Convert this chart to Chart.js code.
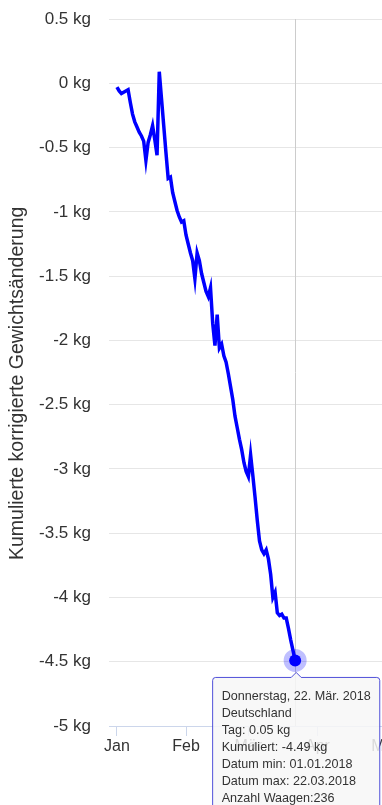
<!DOCTYPE html>
<html>
<head>
<meta charset="utf-8">
<script src="https://cdn.jsdelivr.net/npm/chart.js@4.4.1/dist/chart.umd.min.js"></script>
<style>
  html, body { margin: 0; padding: 0; background: #fff; overflow: hidden; width: 382px; height: 805px; }
  #canvas-container { position: relative; width: 420px; height: 830px; }
</style>
</head>
<body>
<div id="canvas-container"><canvas id="mycanvas"></canvas></div>
<script>
// days since 01.01.2018 and cumulative corrected weight change (kg)
const days = [
  0, 1, 2, 3, 4, 5, 6, 7, 8, 9, 10, 11, 12, 13, 14, 15, 16, 17, 18, 19,
  20, 21, 22, 23, 24, 25, 26, 27, 28, 29, 30, 31, 32, 33, 34, 35, 36, 37, 38, 39,
  40, 41, 42, 43, 44, 45, 46, 47, 48, 49, 50, 51, 52, 53, 54, 55, 56, 57, 58, 59,
  60, 61, 62, 63, 64, 65, 66, 67, 68, 69, 70, 71, 72, 73, 74, 75, 76, 77, 78, 79, 80
];
const cumulative = [
  -0.03, -0.06, -0.08, -0.07, -0.06, -0.05, -0.15, -0.24, -0.30, -0.34,
  -0.38, -0.41, -0.45, -0.60, -0.46, -0.40, -0.33, -0.44, -0.56, 0.09,
  -0.12, -0.33, -0.54, -0.74, -0.73, -0.85, -0.92, -0.99, -1.04, -1.08,
  -1.07, -1.18, -1.25, -1.32, -1.38, -1.52, -1.32, -1.38, -1.48, -1.55,
  -1.62, -1.66, -1.59, -1.87, -2.04, -1.80, -2.06, -2.03, -2.12, -2.17,
  -2.26, -2.36, -2.46, -2.59, -2.68, -2.77, -2.85, -2.95, -3.02, -3.06,
  -2.89, -3.05, -3.22, -3.40, -3.56, -3.63, -3.66, -3.63, -3.70, -3.82,
  -4.00, -3.96, -4.12, -4.14, -4.13, -4.16, -4.16, -4.24, -4.33, -4.41, -4.49
];
const monthStarts = [0, 31, 59, 90, 120];
const monthNames = ["Jan", "Feb", "Mär", "Apr", "Mai"];
const weekdayNames = ["Sonntag", "Montag", "Dienstag", "Mittwoch", "Donnerstag", "Freitag", "Samstag"];
const yTicks = [0.5, 0, -0.5, -1, -1.5, -2, -2.5, -3, -3.5, -4, -4.5, -5];
const region = "Deutschland";
const dayChange = 0.05;
const scaleCount = 236;

Chart.defaults.font.family = "'Liberation Sans', Arial, sans-serif";
Chart.defaults.color = "#333333";

function pad2(n) { return (n < 10 ? "0" : "") + n; }
function dateOf(day) { return new Date(2018, 0, 1 + day); }
function shortDate(day) {
  const d = dateOf(day);
  return pad2(d.getDate()) + "." + pad2(d.getMonth() + 1) + "." + d.getFullYear();
}

// vertical crosshair at the active point
const crosshair = {
  id: "crosshair",
  beforeDatasetsDraw(chart) {
    const active = chart.getActiveElements();
    if (!active.length) return;
    const x = active[0].element.x;
    const ctx = chart.ctx;
    ctx.save();
    ctx.strokeStyle = "#cccccc";
    ctx.lineWidth = 1;
    ctx.beginPath();
    ctx.moveTo(Math.round(x) + 0.5, chart.chartArea.top);
    ctx.lineTo(Math.round(x) + 0.5, chart.chartArea.bottom);
    ctx.stroke();
    ctx.restore();
  }
};

const ctx = document.getElementById("mycanvas");
const myChart = new Chart(ctx, {
  type: "line",
  data: {
    datasets: [{
      data: days.map((d, i) => ({ x: d, y: cumulative[i] })),
      borderColor: "#0000ff",
      borderWidth: 3.5,
      tension: 0,
      pointRadius: 0,
      pointHoverRadius: 6,
      pointHoverBackgroundColor: "#0000ff",
      pointHoverBorderColor: "rgba(0,0,255,0.25)",
      pointHoverBorderWidth: 11,
      fill: false
    }]
  },
  options: {
    responsive: true,
    maintainAspectRatio: false,
    animation: false,
    events: [],
    layout: { padding: { top: 19, left: 0, right: 0, bottom: 0 } },
    scales: {
      x: {
        type: "linear",
        min: -3.57,
        max: 135.27,
        afterBuildTicks: (scale) => { scale.ticks = monthStarts.map((v) => ({ value: v })); },
        afterFit: (scale) => { scale.height = 104; },
        ticks: {
          autoSkip: false,
          maxRotation: 0,
          padding: 1,
          font: { size: 16 },
          color: "#333333",
          callback: (v) => monthNames[monthStarts.indexOf(v)]
        },
        grid: { drawOnChartArea: false, drawTicks: true, tickLength: 10, tickColor: "#ccd6eb" },
        border: { display: true, color: "#ccd6eb" }
      },
      y: {
        min: -5,
        max: 0.5,
        afterBuildTicks: (scale) => { scale.ticks = yTicks.map((v) => ({ value: v })); },
        afterFit: (scale) => {
          scale.width = 109;
          scale.paddingTop = 0;
          scale.paddingBottom = 0;
        },
        ticks: {
          padding: 18,
          font: { size: 17 },
          color: "#333333",
          callback: (v) => (Math.round(v * 10) / 10) + " kg"
        },
        grid: { color: "#e6e6e6", drawTicks: false },
        border: { display: false },
        title: {
          display: true,
          text: "Kumulierte korrigierte Gewichtsänderung    ",
          font: { size: 19.5 },
          color: "#333333",
          padding: { top: 6, bottom: 0 }
        }
      }
    },
    plugins: {
      legend: { display: false },
      tooltip: {
        animation: false,
        xAlign: "center",
        yAlign: "top",
        backgroundColor: "rgba(247,247,247,0.85)",
        borderColor: "rgba(50,50,210,0.85)",
        borderWidth: 1,
        cornerRadius: 3,
        caretSize: 5,
        caretPadding: 12,
        displayColors: false,
        bodyColor: "#333333",
        bodyFont: { size: 12.6 },
        bodySpacing: 1.8,
        padding: { left: 9, right: 9, top: 12, bottom: 8 },
        callbacks: {
          title: () => "",
          label: (item) => {
            const day = days[item.dataIndex];
            const d = dateOf(day);
            return [
              weekdayNames[d.getDay()] + ", " + d.getDate() + ". " + monthNames[d.getMonth()] + ". " + d.getFullYear(),
              region,
              "Tag: " + dayChange.toFixed(2) + " kg",
              "Kumuliert: " + cumulative[item.dataIndex].toFixed(2) + " kg",
              "Datum min: " + shortDate(days[0]),
              "Datum max: " + shortDate(day),
              "Anzahl Waagen:" + scaleCount
            ];
          }
        }
      }
    }
  },
  plugins: [crosshair]
});

// show the hovered state of the last point, as in the screenshot
const last = days.length - 1;
myChart.setActiveElements([{ datasetIndex: 0, index: last }]);
myChart.tooltip.setActiveElements([{ datasetIndex: 0, index: last }], { x: 0, y: 0 });
myChart.update();
</script>
</body>
</html>
